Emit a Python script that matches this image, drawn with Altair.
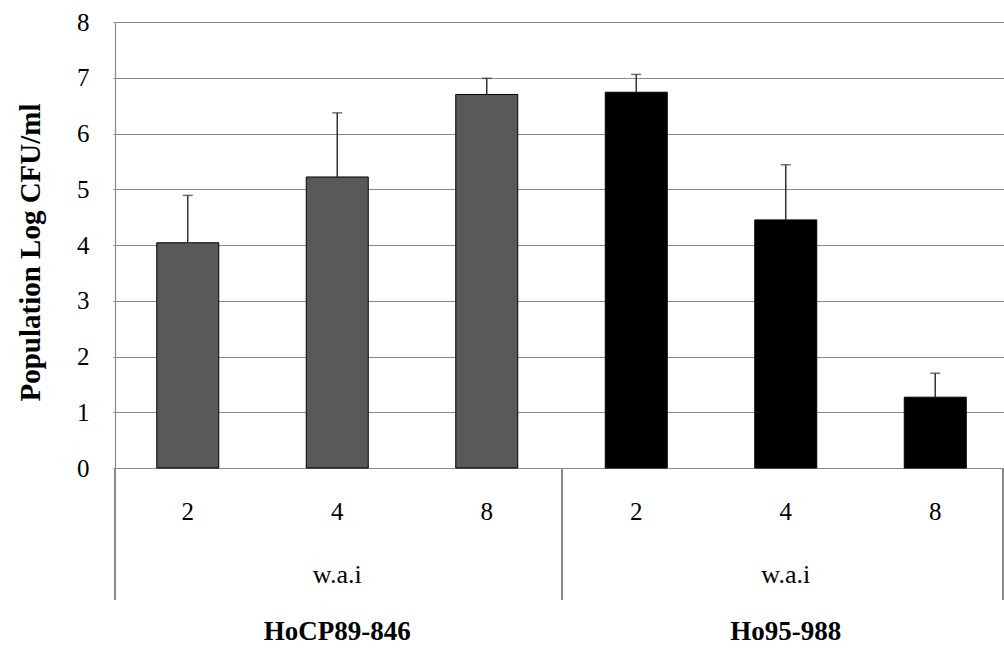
import altair as alt
import pandas as pd

# Population (log CFU/ml) by cultivar and weeks after inoculation
cultivars = ["HoCP89-846", "HoCP89-846", "HoCP89-846", "Ho95-988", "Ho95-988", "Ho95-988"]
weeks = ["2", "4", "8", "2", "4", "8"]
means = [4.04, 5.22, 6.70, 6.74, 4.45, 1.27]
errors = [0.85, 1.15, 0.29, 0.32, 0.99, 0.43]
bar_colors = ["#595959", "#595959", "#595959", "#000000", "#000000", "#000000"]

group_names = ["HoCP89-846", "Ho95-988"]
group_sub = ["w.a.i", "w.a.i"]

keys = [f"{c}|{w}" for c, w in zip(cultivars, weeks)]
df = pd.DataFrame({
    "key": keys,
    "cultivar": cultivars,
    "week": weeks,
    "mean": means,
    "upper": [m + e for m, e in zip(means, errors)],
    "color": bar_colors,
})

# middle category of each cultivar carries its group labels
groups = pd.DataFrame({
    "key": [keys[1], keys[4]],
    "name": group_names,
    "sub": group_sub,
})

FONT = "Liberation Serif"
W, H = 889, 446

x = alt.X("key:N", scale=alt.Scale(domain=keys, range=[-2, 895], paddingInner=0, paddingOuter=0),
          axis=None)
y_scale = alt.Scale(domain=[0, 8], nice=False)

bars = alt.Chart(df).mark_bar(width=62, stroke="#000000", strokeWidth=1).encode(
    x=x,
    y=alt.Y("mean:Q", scale=y_scale,
            axis=alt.Axis(values=list(range(9)), format="d", grid=True, gridColor="#8a8a8a",
                          gridWidth=1.2, domainColor="#8a8a8a", domainWidth=1.2, ticks=False,
                          labelFont=FONT, labelFontSize=25, labelColor="#000000", labelPadding=26,
                          title="Population Log CFU/ml", titleFont=FONT, titleFontSize=29,
                          titleFontWeight="bold", titleColor="#000000", titleAngle=270,
                          titleX=-85, titleY=230, titleAlign="center", titleBaseline="middle")),
    color=alt.Color("color:N", scale=None),
)

err_line = alt.Chart(df).mark_rule(color="#333333", strokeWidth=1.5).encode(
    x=x, y=alt.Y("mean:Q", scale=y_scale), y2="upper:Q"
)
err_cap = alt.Chart(df).mark_tick(color="#333333", thickness=1.5, size=10, orient="horizontal").encode(
    x=x, y=alt.Y("upper:Q", scale=y_scale)
)

week_labels = alt.Chart(df).mark_text(font=FONT, fontSize=25, color="#000000", baseline="middle").encode(
    x=x, y=alt.value(490), text="week:N"
)
sub_labels = alt.Chart(groups).mark_text(font=FONT, fontSize=26, color="#000000", baseline="middle").encode(
    x=x, y=alt.value(553), text="sub:N"
)
name_labels = alt.Chart(groups).mark_text(font=FONT, fontSize=27, fontWeight="bold", color="#000000",
                                          baseline="middle").encode(
    x=x, y=alt.value(610), text="name:N"
)

# vertical dividers of the category axis
div_left = alt.Chart(df).mark_rule(color="#8a8a8a", strokeWidth=1.2).encode(
    x=alt.value(0), y=alt.value(H), y2=alt.value(578)
)
div_mid = alt.Chart(df).mark_rule(color="#8a8a8a", strokeWidth=1.2).encode(
    x=alt.value(447), y=alt.value(H), y2=alt.value(578)
)
div_right = alt.Chart(df).mark_rule(color="#8a8a8a", strokeWidth=1.2).encode(
    x=alt.value(W - 1), y=alt.value(H), y2=alt.value(578)
)

chart = alt.layer(
    bars, err_line, err_cap, week_labels, sub_labels, name_labels, div_left, div_mid, div_right
).properties(
    width=W, height=H,
    autosize=alt.AutoSizeParams(type="none"),
    padding={"left": 115, "top": 22, "right": 0, "bottom": 180},
    background="#ffffff",
).configure_view(strokeWidth=0)

chart.save("out.html", embed_options={"renderer": "svg", "actions": False})
